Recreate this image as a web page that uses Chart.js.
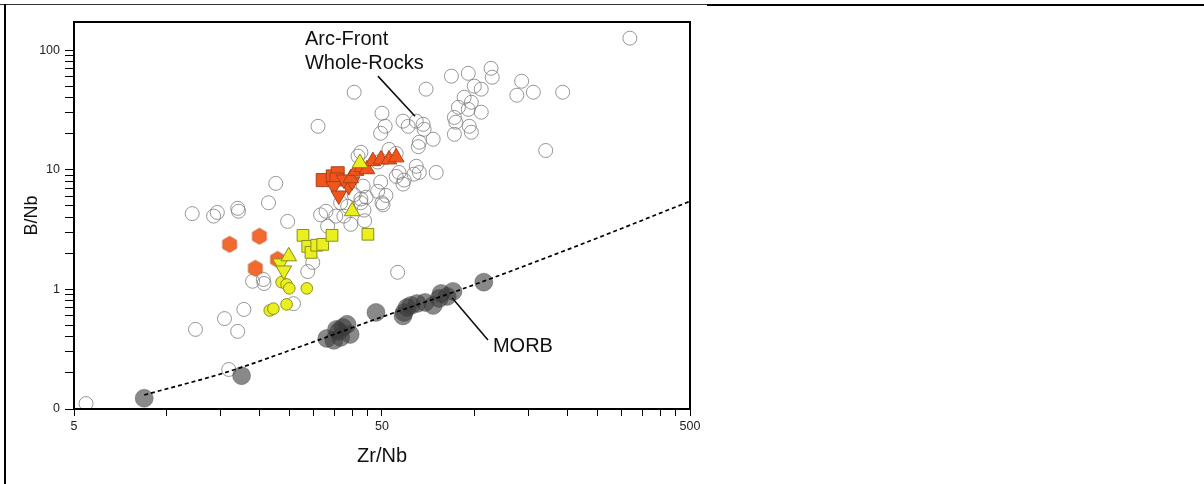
<!DOCTYPE html>
<html><head><meta charset="utf-8">
<script src="https://cdn.jsdelivr.net/npm/chart.js@4.4.1/dist/chart.umd.min.js"></script>
<style>
html,body{margin:0;padding:0;background:#fff;}
#wrap{position:relative;width:1204px;height:484px;overflow:hidden;background:#fff;}
canvas{position:absolute;left:0;top:0;}
.ln{position:absolute;background:#000;}
</style></head><body>
<div id="wrap">
<canvas id="c" width="1204" height="484"></canvas>
<div class="ln" style="left:0;top:4px;width:707px;height:1px;background:#333"></div>
<div class="ln" style="left:707px;top:4px;width:497px;height:2px"></div>
<div class="ln" style="left:4px;top:4px;width:2px;height:480px"></div>
</div>
<script>
// ---- data (Zr/Nb, B/Nb) ----
const arcX = [5.47,12.4,15.4,17.0,17.8,15.9,19.0,20.6,20.7,25.8,28.7,29.8,12.1,14.2,14.6,17.0,17.1,21.4,22.6,24.7,31.6,32.9,35.4,33.3,39.6,31.0,40.6,50.0,51.2,49.5,58.5,60.8,64.6,68.0,68.5,66.1,65.6,73.3,69.5,84,95.3,113,114,99.7,105,137,142,155,193,92.4,88.5,97.5,95.3,105,85.9,86.8,96,97.5,85.9,170,319,42.7,52.7,56.8,55.6,59,64.6,66.1,75,49.5,48.4,50,43.4,40.6,42.7,38.7,55.6,48.4,41.8,63.5,58.5,50.4,44.4,37.6,42.7,43.7,43.9,36.7,56.2,51.5];
const arcY = [0.111,0.463,0.57,0.446,0.68,0.214,1.17,1.21,1.12,0.76,1.41,1.68,4.3,4.1,4.4,4.76,4.5,5.3,7.7,3.7,4.2,4.5,4.1,3.37,3.5,23.1,44.5,29.7,23.1,20.2,25.5,23.1,25.5,24.0,21.8,17.0,15.6,18.0,47.2,60.6,64,70.5,59.4,50,47.2,42,55,44.5,44.5,40.4,33.3,36.7,32,30.3,27.4,25,23.1,20.6,19.8,14.5,126,14,14.8,9.5,8.8,8.2,10.7,9.5,9.5,7.9,6.6,5.3,7.3,6.2,5.3,4.95,13.7,11.6,13,9.2,7.6,5.1,5.9,4.1,5.7,4.6,3.75,5.3,1.39,6.1];

const morbX = [8.45,17.5,33.1,34.9,36.2,37.3,38.5,39.4,36.7,35.6,47.8,59,60.3,62.1,65,69,73.3,77.8,81.4,85,107,76.7,58.5];
const morbY = [0.123,0.19,0.389,0.375,0.446,0.481,0.51,0.42,0.397,0.463,0.642,0.642,0.707,0.735,0.763,0.778,0.735,0.926,0.874,0.962,1.15,0.84,0.6];

const morbLineX = [8.45,15.9,27.2,49.5,90.4,201,500];
const morbLineY = [0.131,0.206,0.333,0.583,1.0,2.16,5.45];

const orHexX = [16.0,20.0,19.4,22.9];
const orHexY = [2.38,2.78,1.50,1.78];
const orSqX = [32.1,34.6,35.9,35.6];
const orSqY = [8.2,8.8,9.35,8.3];
const orInvX = [34.9,36.2,39.0,40.0,37.6];
const orInvY = [7.3,6.1,7.3,8.0,8.3];
const orTriX = [39.6,41.2,43.0,44.7,46.7,49.6,52.7,55.6];
const orTriY = [8.5,9.8,10.5,10.1,11.8,12.2,12.2,12.7];

const yeCircX = [23.6,24.5,25.0,28.5,21.6,22.2,24.5];
const yeCircY = [1.15,1.10,1.02,1.02,0.667,0.69,0.75];
const yeInvX = [23.4,24.0];
const yeInvY = [1.65,1.44];
const yeTriX = [24.9,40.0,42.4];
const yeTriY = [1.89,4.5,11.4];
const yeSqX = [27.7,28.7,29.4,30.7,32.1,34.4,45.0];
const yeSqY = [2.83,2.29,2.04,2.34,2.38,2.83,2.89];

// ---- axes ticks ----
const xTicks = [5,10,15,20,25,30,35,40,45,50,100,150,200,250,300,350,400,450,500];
const xLabelVals = [5,50,500];
const xLabelTxt = ['5','50','500'];
const yTicks = [0.1,0.2,0.3,0.4,0.5,0.6,0.7,0.8,0.9,1,2,3,4,5,6,7,8,9,10,20,30,40,50,60,70,80,90,100];
const yLabelVals = [0.1,1,10,100];
const yLabelTxt = ['0','1','10','100'];

// ---- annotations (data coords) ----
const arcLabel = {x:28.1, y1:124, y2:78, lines:['Arc-Front','Whole-Rocks']};
const arcLeader = {x1:48.5, y1:60.7, x2:64, y2:28};
const morbLabel = {x:114.6, y:0.331, text:'MORB'};
const morbLeader = {x1:84.4, y1:0.851, x2:110.4, y2:0.378};

const pts = (xs, ys) => xs.map((x,i)=>({x:x, y:ys[i]}));
const lab = (vals, txt) => (v) => { for (let i=0;i<vals.length;i++){ if (Math.abs(vals[i]-v) < vals[i]*1e-6) return txt[i]; } return ''; };

// hexagon marker
function hexCanvas(r, fill, stroke){
  const s = Math.ceil(r*2+2);
  const c = document.createElement('canvas'); c.width=s; c.height=s;
  const g = c.getContext('2d');
  g.beginPath();
  for (let k=0;k<6;k++){ const a = Math.PI/2 + k*Math.PI/3; const px = s/2 + r*Math.cos(a), py = s/2 + r*Math.sin(a); k?g.lineTo(px,py):g.moveTo(px,py); }
  g.closePath(); g.fillStyle=fill; g.fill(); g.strokeStyle=stroke; g.lineWidth=0.8; g.stroke();
  return c;
}
const hex = hexCanvas(8, '#f26a30', '#c4501e');

const FONT = "'Liberation Sans', Arial, sans-serif";
const TFONT = "'Liberation Sans Narrow', 'Liberation Sans', Arial, sans-serif";

const ORF = '#f2551c', ORB = '#a9421a', YEF = '#eaf020', YEB = '#8c8c1c';

const overlay = {
  id:'overlay',
  afterDatasetsDraw(chart){
    const {ctx, chartArea:a, scales:{x,y}} = chart;
    ctx.save();
    ctx.strokeStyle='#000'; ctx.lineWidth=2;
    ctx.strokeRect(a.left, a.top, a.right-a.left, a.bottom-a.top);
    ctx.lineWidth=1.6; ctx.strokeStyle='#111';
    ctx.beginPath();
    ctx.moveTo(x.getPixelForValue(arcLeader.x1), y.getPixelForValue(arcLeader.y1));
    ctx.lineTo(x.getPixelForValue(arcLeader.x2), y.getPixelForValue(arcLeader.y2));
    ctx.moveTo(x.getPixelForValue(morbLeader.x1), y.getPixelForValue(morbLeader.y1));
    ctx.lineTo(x.getPixelForValue(morbLeader.x2), y.getPixelForValue(morbLeader.y2));
    ctx.stroke();
    ctx.fillStyle='#111'; ctx.textBaseline='middle'; ctx.textAlign='left';
    ctx.font = '20px ' + FONT;
    ctx.fillText(arcLabel.lines[0], x.getPixelForValue(arcLabel.x), y.getPixelForValue(arcLabel.y1));
    ctx.fillText(arcLabel.lines[1], x.getPixelForValue(arcLabel.x), y.getPixelForValue(arcLabel.y2));
    ctx.fillText(morbLabel.text, x.getPixelForValue(morbLabel.x), y.getPixelForValue(morbLabel.y));
    ctx.restore();
  }
};

new Chart(document.getElementById('c'), {
  type:'scatter',
  data:{datasets:[
    {label:'yellow triangles', data:pts(yeTriX,yeTriY), pointStyle:'triangle', pointRadius:9, backgroundColor:YEF, borderColor:YEB, borderWidth:1},
    {label:'yellow inverted', data:pts(yeInvX,yeInvY), pointStyle:'triangle', rotation:180, pointRadius:9, backgroundColor:YEF, borderColor:YEB, borderWidth:1},
    {label:'yellow squares', data:pts(yeSqX,yeSqY), pointStyle:'rect', pointRadius:8.3, backgroundColor:YEF, borderColor:YEB, borderWidth:1},
    {label:'yellow circles', data:pts(yeCircX,yeCircY), pointStyle:'circle', pointRadius:5.8, backgroundColor:YEF, borderColor:YEB, borderWidth:1},
    {label:'orange triangles', data:pts(orTriX,orTriY), pointStyle:'triangle', pointRadius:9, backgroundColor:ORF, borderColor:ORB, borderWidth:1},
    {label:'orange inverted', data:pts(orInvX,orInvY), pointStyle:'triangle', rotation:180, pointRadius:9, backgroundColor:ORF, borderColor:ORB, borderWidth:1},
    {label:'orange squares', data:pts(orSqX,orSqY), pointStyle:'rect', pointRadius:9.2, backgroundColor:ORF, borderColor:ORB, borderWidth:1},
    {label:'orange hexagons', data:pts(orHexX,orHexY), pointStyle:hex, pointRadius:8},
    {label:'MORB trend', data:pts(morbLineX,morbLineY), showLine:true, cubicInterpolationMode:'monotone', borderColor:'#000', borderWidth:1.7, borderDash:[4,3], pointRadius:0, fill:false},
    {label:'MORB', data:pts(morbX,morbY), pointStyle:'circle', pointRadius:9, backgroundColor:'rgba(58,58,58,0.6)', borderColor:'rgba(58,58,58,0.35)', borderWidth:1},
    {label:'Arc-Front Whole-Rocks', data:pts(arcX,arcY), pointStyle:'circle', pointRadius:7, backgroundColor:'rgba(0,0,0,0)', borderColor:'rgba(125,125,125,0.8)', borderWidth:1}
  ]},
  options:{
    responsive:false, animation:false, devicePixelRatio:1,
    layout:{padding:{top:22,right:514,left:0,bottom:0}},
    plugins:{legend:{display:false}, tooltip:{enabled:false}},
    elements:{point:{hoverRadius:0}},
    scales:{
      x:{type:'logarithmic', min:5, max:500,
        afterBuildTicks:(s)=>{ s.ticks = xTicks.map(v=>({value:v})); },
        afterFit:(s)=>{ s.height = 75; },
        ticks:{autoSkip:false, maxRotation:0, minRotation:0, padding:3, color:'#222', font:{family:TFONT, size:12.5}, callback:lab(xLabelVals,xLabelTxt)},
        grid:{drawOnChartArea:false, drawTicks:true, tickLength:7, color:'#000', lineWidth:1},
        border:{display:false},
        title:{display:true, text:'Zr/Nb', color:'#111', font:{family:FONT, size:20}, padding:{top:0,bottom:16}}
      },
      y:{type:'logarithmic', min:0.1, max:172,
        afterBuildTicks:(s)=>{ s.ticks = yTicks.map(v=>({value:v})); },
        afterFit:(s)=>{ s.width = 74; },
        ticks:{autoSkip:false, padding:5, color:'#222', font:{family:TFONT, size:12.5}, callback:lab(yLabelVals,yLabelTxt)},
        grid:{drawOnChartArea:false, drawTicks:true, tickLength:9, color:'#000', lineWidth:1},
        border:{display:false},
        title:{display:true, text:'B/Nb', color:'#111', font:{family:FONT, size:18}, padding:{top:21,bottom:0}}
      }
    }
  },
  plugins:[overlay]
});
</script>
</body></html>
